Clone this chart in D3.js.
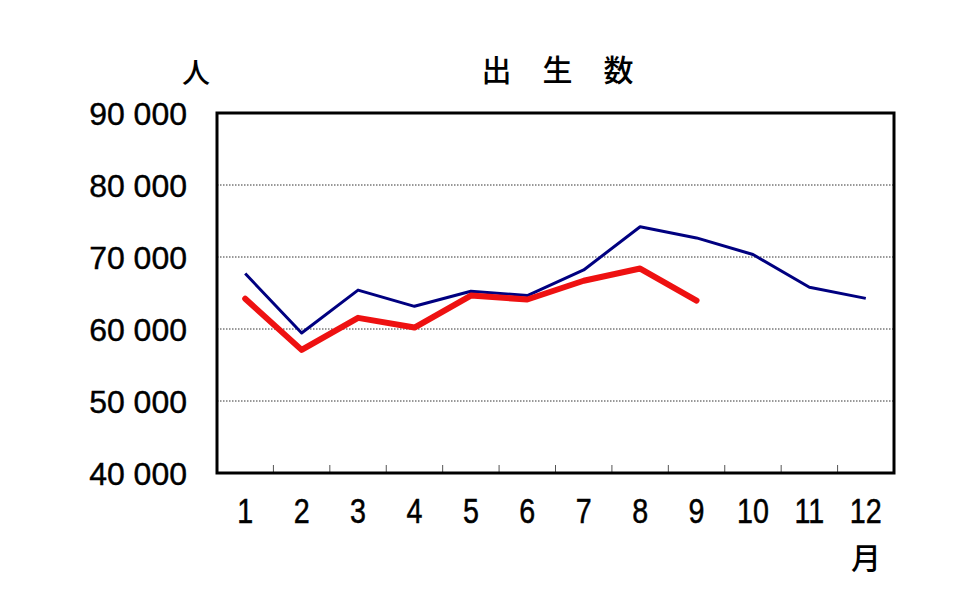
<!DOCTYPE html>
<html><head><meta charset="utf-8">
<script src="https://cdn.jsdelivr.net/npm/d3@7"></script>
<style>body{margin:0;background:#fff}svg{display:block}</style>
</head><body>
<svg id="c" width="953" height="594"></svg>
<script>
const months = ["1","2","3","4","5","6","7","8","9","10","11","12"];
const prevYear = [67700, 59450, 65400, 63150, 65250, 64650, 68200, 74200, 72650, 70350, 65800, 64250];
const thisYear = [64200, 57100, 61550, 60200, 64650, 64100, 66700, 68400, 63950];
const yTicks = [40000, 50000, 60000, 70000, 80000, 90000];
const title = "出生数";
const yUnit = "人";
const xUnit = "月";

const svg = d3.select("#c");
const L = 217, R = 894, T = 113, B = 473;
const x = d3.scaleBand().domain(months).range([L, R]);
const y = d3.scaleLinear().domain([40000, 90000]).range([B, T]);
const fmt = v => d3.format(",")(v).replace(/,/g, " ");

// grid
svg.append("g").selectAll("line").data(yTicks.filter(v => v > 40000 && v < 90000)).join("line")
  .attr("x1", L).attr("x2", R).attr("y1", d => y(d)).attr("y2", d => y(d))
  .attr("stroke", "#333").attr("stroke-width", 1).attr("stroke-dasharray", "1.5,1.5");

// bottom inner ticks at month boundaries
svg.append("g").selectAll("line").data(months.slice(1)).join("line")
  .attr("x1", d => x(d)).attr("x2", d => x(d)).attr("y1", B).attr("y2", B - 8)
  .attr("stroke", "#555").attr("stroke-width", 1);

// y labels
svg.append("g").selectAll("text").data(yTicks).join("text")
  .attr("x", 187).attr("y", d => y(d)).attr("dy", "0.36em")
  .attr("text-anchor", "end")
  .attr("stroke", "#000").attr("stroke-width", 0.4)
  .style("font-family", "'Liberation Sans', Arial, sans-serif").style("font-size", "32px")
  .text(fmt);

// x labels (condensed)
svg.append("g").selectAll("text").data(months).join("text")
  .attr("transform", d => `translate(${x(d) + x.bandwidth() / 2},523) scale(0.82,1)`)
  .attr("text-anchor", "middle")
  .attr("stroke", "#000").attr("stroke-width", 0.5)
  .style("font-family", "'Liberation Sans', Arial, sans-serif").style("font-size", "35px")
  .text(d => d);

const line = d3.line().x((d, i) => x(months[i]) + x.bandwidth() / 2).y(d => y(d));
svg.append("path").datum(prevYear).attr("d", line)
  .attr("fill", "none").attr("stroke", "#000080").attr("stroke-width", 3).attr("stroke-linejoin", "round");
svg.append("path").datum(thisYear).attr("d", line)
  .attr("fill", "none").attr("stroke", "#ee1111").attr("stroke-width", 6).attr("stroke-linejoin", "round").attr("stroke-linecap", "round");

// frame
svg.append("rect").attr("x", L).attr("y", T).attr("width", R - L).attr("height", B - T)
  .attr("fill", "none").attr("stroke", "#000").attr("stroke-width", 3);

const cjk = "'Noto Sans CJK JP', sans-serif";
svg.append("text").attr("x", 558 + 15).attr("y", 81).attr("text-anchor", "middle")
  .style("font-family", cjk).style("font-size", "30px").style("font-weight", "500").style("letter-spacing", "31px")
  .text(title);
svg.append("text").attr("x", 196).attr("y", 83).attr("text-anchor", "middle")
  .style("font-family", cjk).style("font-size", "28px").style("font-weight", "500").text(yUnit);
svg.append("text").attr("x", 866).attr("y", 569).attr("text-anchor", "middle")
  .style("font-family", cjk).style("font-size", "30px").style("font-weight", "500").text(xUnit);
</script>
</body></html>
